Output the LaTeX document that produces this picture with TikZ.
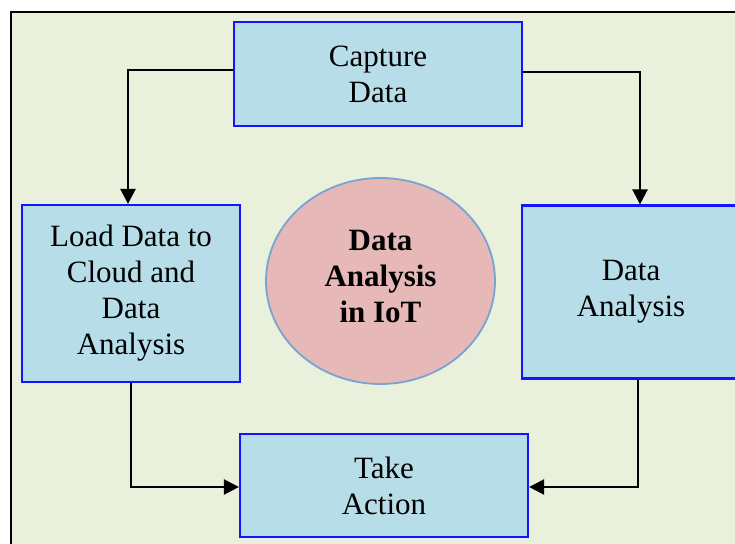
\documentclass[tikz,border=0pt]{standalone}
\usepackage{fontspec}
\setmainfont{Liberation Serif}
\usetikzlibrary{arrows.meta,shapes.geometric}
\definecolor{pagebg}{RGB}{233,240,220}
\definecolor{boxfill}{RGB}{183,221,232}
\definecolor{boxline}{RGB}{20,20,255}
\definecolor{ovalfill}{RGB}{230,184,183}
\definecolor{ovalline}{RGB}{121,163,209}
\tikzset{
  stepbox/.style={draw=boxline, fill=boxfill, line width=2.2pt, rectangle,
    align=center, inner sep=0pt, font=\fontsize{31}{36}\selectfont},
  centre/.style={ellipse, draw=ovalline, fill=ovalfill, line width=1.8pt,
    inner sep=0pt, align=center, font=\fontsize{31}{36}\selectfont\bfseries},
  conn/.style={draw=black, line width=2.4pt,
    -{Triangle[length=15pt,width=15pt]}},
}
\begin{document}
\begin{tikzpicture}[x=1pt,y=-1pt]
  % page and frame
  \useasboundingbox (0,0) rectangle (735,543);
  \fill[white] (0,0) rectangle (735,543);
  \clip (0,0) rectangle (735,543);
  \fill[pagebg] (11,12) rectangle (740,550);
  \draw[line width=1.6pt] (11,550) -- (11,12) -- (740,12);

  % process steps
  \node[stepbox, minimum width=288pt, minimum height=104pt] (cap) at (378,74) {Capture\\Data};
  \node[stepbox, minimum width=218pt, minimum height=177pt] (load) at (131,293.5) {Load Data to\\Cloud and\\Data\\Analysis};
  \node[stepbox, minimum width=232pt, minimum height=173pt] (da) at (638,292) {\hspace*{-14pt}Data\\\hspace*{-14pt}Analysis};
  \node[stepbox, minimum width=288pt, minimum height=103pt] (act) at (384,485.5) {Take\\Action};

  % central topic
  \node[centre, minimum width=229pt, minimum height=206pt] (topic) at (380.5,281) {Data\\Analysis\\in IoT\\[-26pt]\mbox{}};

  % flow connectors
  \draw[conn] ([yshift=4pt]cap.west) -| ([xshift=-3pt]load.north);
  \draw[conn] ([yshift=2pt]cap.east) -| ([xshift=2pt]da.north);
  \draw[conn] (load.south) |- ([yshift=-1.5pt]act.west);
  \draw[conn] (da.south) |- ([yshift=-1.5pt]act.east);
\end{tikzpicture}
\end{document}
